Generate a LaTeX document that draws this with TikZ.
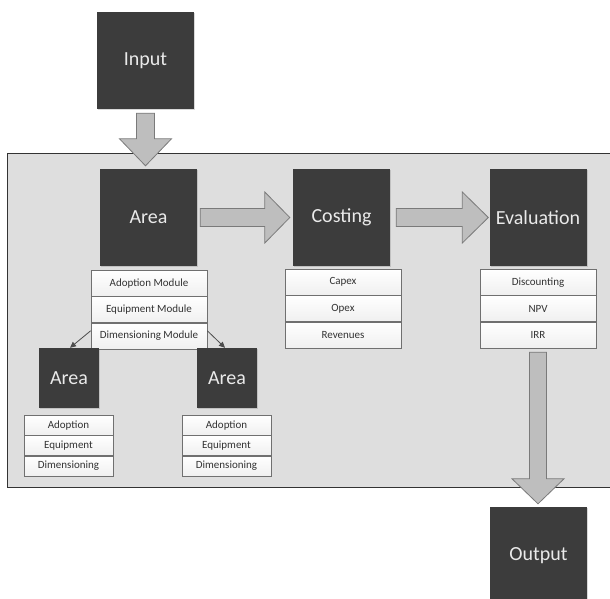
\documentclass[tikz,border=0pt]{standalone}
\usepackage{fontspec}
\setmainfont{Carlito}
\usetikzlibrary{calc,shadows,arrows.meta}

\definecolor{boxdark}{HTML}{3C3C3C}
\definecolor{boxtext}{HTML}{EAEAEA}
\definecolor{panel}{HTML}{DEDEDE}
\definecolor{arrowfill}{HTML}{BEBEBE}
\definecolor{arrowline}{HTML}{7A7A7A}
\definecolor{cellline}{HTML}{707070}
\definecolor{celltext}{HTML}{333333}

\tikzset{
  stage/.style={fill=boxdark, draw=none, text=boxtext, inner sep=0pt,
    minimum width=97pt, minimum height=97pt, font=\fontsize{20}{24}\selectfont,
    drop shadow={shadow xshift=1.2pt, shadow yshift=-1.2pt, opacity=0.3}},
  substage/.style={stage, minimum width=60pt, minimum height=60pt},
  cell/.style={draw=cellline, line width=0.7pt, top color=white, bottom color=black!6,
    text=celltext, inner sep=0pt, minimum width=116pt, minimum height=25.7pt,
    font=\fontsize{11}{13}\selectfont, anchor=north},
  subcell/.style={cell, minimum width=89pt, minimum height=19.7pt},
  blockarrow/.style={fill=arrowfill, draw=arrowline, line width=0.8pt, line join=miter},
  thinlink/.style={draw=black!70, line width=0.8pt,
    -{Triangle[length=6pt,width=5.5pt]}},
}

\begin{document}
\begin{tikzpicture}[x=1pt,y=-1pt]
\useasboundingbox (0,0) rectangle (610,599);

% shared panel behind the model stages
\draw[fill=panel, draw=black!80, line width=0.8pt] (7,153) rectangle (630,487);

% main stages
\node[stage] (input) at (145.5,60.5) {Input};
\node[stage] (area) at (148.5,217.5) {Area};
\node[stage] (costing) at (341.5,217.5) {Costing};
\node[stage] (eval) at (538,217.5) {Evaluation};
\node[stage] (output) at (538.5,555.5) {Output};

% module lists under each stage
\node[cell] (am1) at (149,270) {Adoption Module};
\node[cell] (am2) at (am1.south) {Equipment Module};
\node[cell] (am3) at (am2.south) {Dimensioning Module};

\node[cell] (cm1) at (343,269) {Capex};
\node[cell] (cm2) at (cm1.south) {Opex};
\node[cell] (cm3) at (cm2.south) {Revenues};

\node[cell] (em1) at (538,269) {Discounting};
\node[cell] (em2) at (em1.south) {NPV};
\node[cell] (em3) at (em2.south) {IRR};

% nested areas
\node[substage] (subL) at (69,378) {Area};
\node[substage] (subR) at (227,378) {Area};

\node[subcell] (sl1) at (68.5,415) {Adoption};
\node[subcell] (sl2) at (sl1.south) {Equipment};
\node[subcell] (sl3) at (sl2.south) {Dimensioning};

\node[subcell] (sr1) at (226.5,415) {Adoption};
\node[subcell] (sr2) at (sr1.south) {Equipment};
\node[subcell] (sr3) at (sr2.south) {Dimensioning};

% dimensioning module splits into nested areas
\draw[thinlink] ($(am3.north west)+(0,8)$) -- ($(subL.north)+(1,0)$);
\draw[thinlink] ($(am3.north east)+(0,8)$) -- ($(subR.north)+(-2,0)$);

% block arrows between stages
\draw[blockarrow]
  ($(input.south)+(-9,4)$) -- ($(input.south)+(9,4)$)
  -- ($(input.south |- area.north)+(9,-30)$) -- ($(input.south |- area.north)+(26,-30)$)
  -- ($(input.south |- area.north)+(0,-3)$)
  -- ($(input.south |- area.north)+(-26,-30)$) -- ($(input.south |- area.north)+(-9,-30)$)
  -- cycle;

\draw[blockarrow]
  ($(area.east)+(3,-9)$) -- ($(costing.west)+(-28,-9)$) -- ($(costing.west)+(-28,-25.5)$)
  -- ($(costing.west)+(-3,0)$)
  -- ($(costing.west)+(-28,25.5)$) -- ($(costing.west)+(-28,9)$) -- ($(area.east)+(3,9)$)
  -- cycle;

\draw[blockarrow]
  ($(costing.east)+(6,-9)$) -- ($(eval.west)+(-27,-9)$) -- ($(eval.west)+(-27,-25.5)$)
  -- ($(eval.west)+(-1,0)$)
  -- ($(eval.west)+(-27,25.5)$) -- ($(eval.west)+(-27,9)$) -- ($(costing.east)+(6,9)$)
  -- cycle;

\draw[blockarrow]
  ($(em3.south)+(-8.5,4)$) -- ($(em3.south)+(8.5,4)$)
  -- ($(em3.south |- output.north)+(8.5,-28)$) -- ($(em3.south |- output.north)+(26,-28)$)
  -- ($(em3.south |- output.north)+(0,-3)$)
  -- ($(em3.south |- output.north)+(-26,-28)$) -- ($(em3.south |- output.north)+(-8.5,-28)$)
  -- cycle;
\end{tikzpicture}
\end{document}
